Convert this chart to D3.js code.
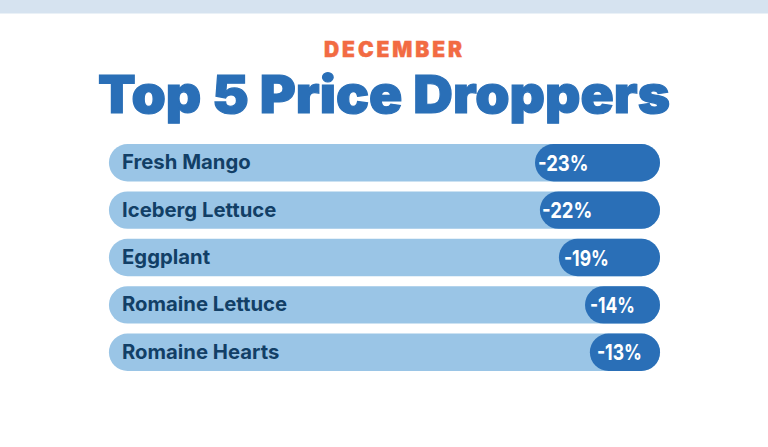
<!DOCTYPE html>
<html><head><meta charset="utf-8">
<script src="https://cdn.jsdelivr.net/npm/d3@7"></script>
<style>html,body{margin:0;background:#fff;overflow:hidden}svg{display:block}</style>
</head><body><svg id="c" width="768" height="447"></svg>
<script>
const categories=["Fresh Mango","Iceberg Lettuce","Eggplant","Romaine Lettuce","Romaine Hearts"];
const values=[-23,-22.1,-18.6,-13.8,-12.9];
const labels=["-23%","-22%","-19%","-14%","-13%"];
const svg=d3.select("#c");
svg.append("rect").attr("x",0).attr("y",0).attr("width",768).attr("height",13.5).attr("fill","#d6e3f0");
svg.append("text").attr("x",393).attr("y",56.5).attr("text-anchor","middle").attr("font-family","Inter").attr("font-weight",900).attr("font-size",21).attr("fill","#f26b43").attr("stroke","#f26b43").attr("stroke-width",.4).attr("textLength",138).attr("lengthAdjust","spacing").text("DECEMBER");
svg.append("text").attr("x",384).attr("y",113).attr("text-anchor","middle").attr("font-family","Inter").attr("font-weight",900).attr("font-size",52).attr("fill","#2a6fb7").attr("stroke","#2a6fb7").attr("stroke-width",1.2).attr("textLength",572).attr("lengthAdjust","spacingAndGlyphs").text("Top 5 Price Droppers");
const y=d3.scaleBand().domain(categories).range([144,371]).paddingInner(0.21).paddingOuter(0);
const x=d3.scaleLinear().domain([0,-23]).range([660,535]);
const h=y.bandwidth();
const rows=svg.selectAll("g.row").data(categories).join("g").attr("class","row");
rows.append("rect").attr("x",x(-101.4)).attr("y",d=>y(d)).attr("width",x(0)-x(-101.4)).attr("height",h).attr("rx",h/2).attr("fill","#9ac5e6");
rows.append("rect").attr("x",(d,i)=>x(values[i])).attr("y",d=>y(d)).attr("width",(d,i)=>x(0)-x(values[i])).attr("height",h).attr("rx",h/2).attr("fill","#2a6fb7");
rows.append("text").attr("x",122).attr("y",d=>y(d)+h/2+6.6).attr("font-family","Inter").attr("font-weight",700).attr("font-size",20.3).attr("fill","#123f66").text(d=>d);
rows.append("text").attr("x",(d,i)=>x(values[i])+[3,2,5,5,7][i]).attr("y",d=>y(d)+h/2+8).attr("font-family","Inter").attr("font-weight",700).attr("font-size",22).attr("fill","#fff").attr("textLength",(d,i)=>labels[i].includes("1")?45:50.5).attr("lengthAdjust","spacingAndGlyphs").text((d,i)=>labels[i]);
</script></body></html>
